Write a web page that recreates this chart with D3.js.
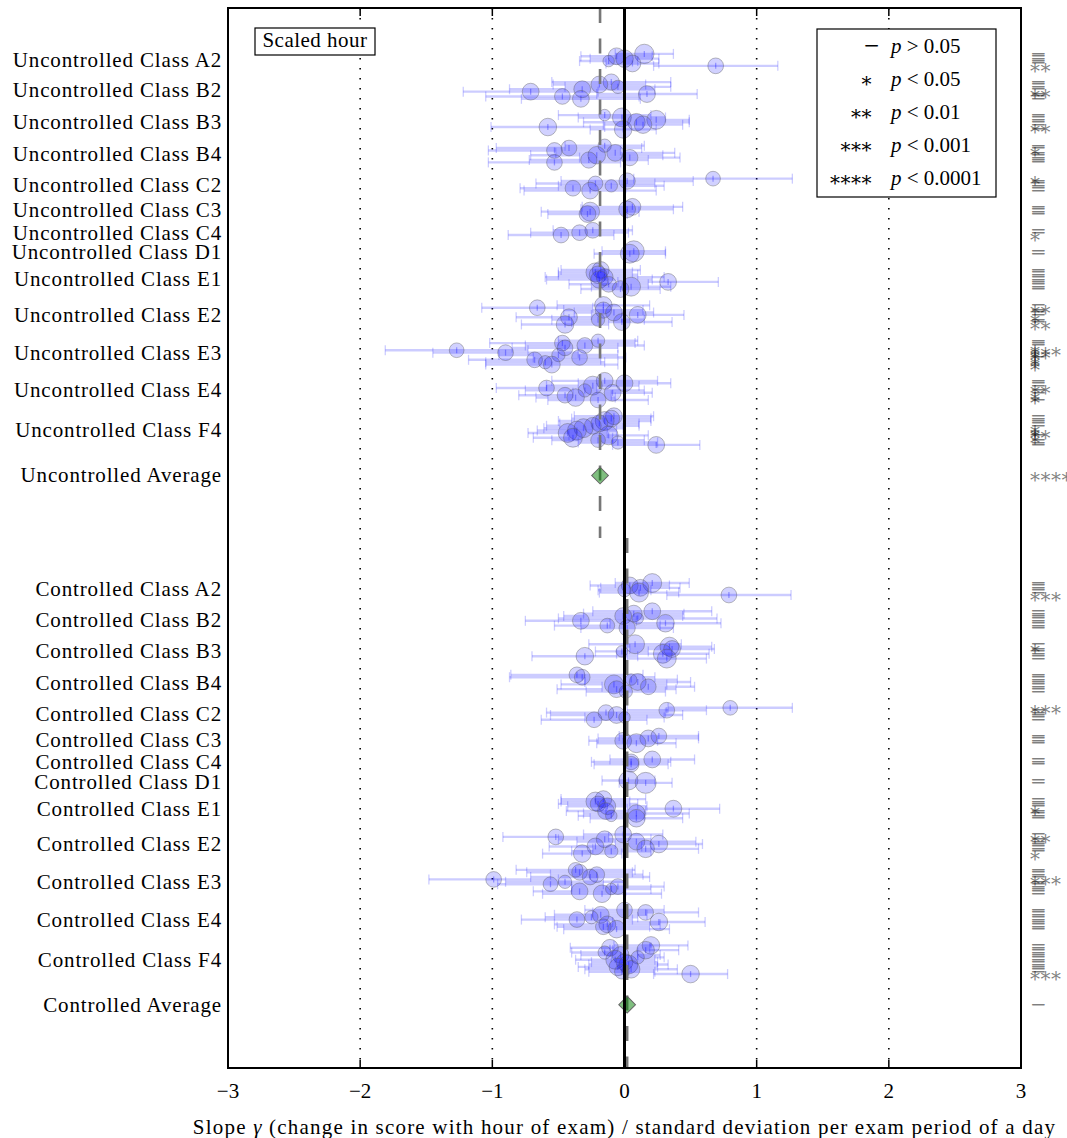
<!DOCTYPE html>
<html><head><meta charset="utf-8">
<script src="https://cdn.jsdelivr.net/npm/d3@7"></script>
<style>body{margin:0;background:#fff}</style>
</head><body>
<svg id="c" width="1067" height="1138"></svg>
<script>
// ---------- DATA ----------
const classes = ["A2","B2","B3","B4","C2","C3","C4","D1","E1","E2","E3","E4","F4"];
const sections = ["Uncontrolled","Controlled"];
const xTicks = [-3,-2,-1,0,1,2,3];
const gridTicks = [-2,-1,1,2];
const sigSymbols = ["\u2212","*","**","***","****"];
const legendRel = [">","<","<","<","<"];
const legendP = ["0.05","0.05","0.01","0.001","0.0001"];
const boxLabel = "Scaled hour";

// Uncontrolled: slope values, half-width of error bars, weights (circle area), significance level
const uncValues = [
  [0.15,-0.06,0.00,-0.12,0.06,0.69],
  [-0.10,-0.19,-0.05,-0.32,-0.71,0.17,-0.47,-0.33],
  [-0.15,-0.02,0.24,0.09,0.14,-0.58,-0.01],
  [-0.15,-0.42,-0.53,-0.07,-0.21,0.04,-0.27,-0.53],
  [0.67,0.02,-0.22,-0.10,-0.39,-0.26],
  [0.06,0.02,-0.26,-0.28],
  [-0.24,-0.34,-0.48],
  [0.07,0.04],
  [-0.18,-0.22,-0.20,-0.15,-0.19,0.33,-0.12,0.05,-0.03],
  [-0.16,-0.66,-0.16,-0.08,0.10,-0.42,-0.20,-0.02,-0.45],
  [-0.20,-0.47,-0.30,-0.45,-1.27,-0.90,-0.50,-0.34,-0.68,-0.60,-0.55],
  [-0.15,0.00,-0.24,-0.59,-0.30,-0.09,-0.45,-0.37,-0.20],
  [-0.08,-0.10,-0.15,-0.19,-0.24,-0.31,-0.36,-0.43,-0.12,-0.39,-0.20,-0.05,0.24]
];
const uncErrors = [
  [0.22,0.27,0.26,0.22,0.20,0.47],
  [0.45,0.35,0.40,0.55,0.51,0.38,0.58,0.45],
  [0.35,0.33,0.25,0.40,0.30,0.43,0.25],
  [0.30,0.55,0.50,0.45,0.50,0.38,0.45,0.50],
  [0.60,0.50,0.45,0.40,0.40,0.50],
  [0.38,0.35,0.37,0.30],
  [0.30,0.37,0.40],
  [0.24,0.27],
  [0.30,0.28,0.30,0.45,0.40,0.38,0.30,0.30,0.30],
  [0.35,0.42,0.30,0.30,0.35,0.40,0.35,0.38,0.33],
  [0.30,0.55,0.45,0.40,0.54,0.55,0.45,0.35,0.50,0.45,0.50],
  [0.40,0.35,0.35,0.38,0.45,0.30,0.35,0.30,0.38],
  [0.30,0.30,0.35,0.30,0.35,0.30,0.30,0.30,0.30,0.30,0.35,0.30,0.33]
];
const uncWeights = [
  [85,64,70,30,64,56],
  [60,64,40,64,64,64,56,64],
  [30,81,81,70,70,70,70],
  [40,56,56,64,70,60,60,56],
  [49,60,49,35,56,64],
  [64,64,81,64],
  [56,56,56],
  [100,81],
  [64,81,70,64,70,64,56,81,64],
  [70,56,60,64,64,64,40,64,70],
  [40,56,56,56,49,56,40,56,56,40,64],
  [64,64,81,56,40,64,56,70,56],
  [64,64,81,64,64,81,81,81,81,81,49,40,64]
];
const uncSig = [
  [0,0,0,0,0,2],
  [0,0,0,0,2,0,0,0],
  [0,0,0,0,0,2,0],
  [0,0,1,0,0,0,0,0],
  [1,0,0,0,0,0],
  [0,0,0,0],
  [0,0,1],
  [0,0],
  [0,0,0,0,0,0,0,0,0],
  [0,2,0,0,0,1,0,0,2],
  [0,0,0,1,3,2,1,0,1,1,1],
  [0,0,0,2,0,0,1,1,0],
  [0,0,0,0,0,1,1,2,0,1,0,0,0]
];
const uncAverage = -0.185, uncAverageSig = 4;

// Controlled
const ctlValues = [
  [0.21,0.04,0.12,0.00,0.11,0.79],
  [0.21,0.07,-0.01,0.10,-0.33,0.31,-0.13,0.02],
  [0.08,0.34,0.36,-0.02,0.29,-0.30,0.32],
  [-0.36,-0.32,0.05,0.10,-0.08,0.18,-0.06,0.01],
  [0.80,0.32,-0.14,-0.06,0.00,-0.23],
  [0.26,0.18,-0.01,0.09],
  [0.21,0.05,0.05],
  [0.03,0.16],
  [-0.16,-0.22,-0.20,-0.13,0.37,-0.14,0.09,-0.10,0.09],
  [-0.01,-0.52,-0.15,0.09,0.26,-0.22,0.16,-0.10,-0.32],
  [-0.37,-0.34,-0.21,-0.26,-0.99,-0.45,-0.56,-0.05,-0.10,-0.34,-0.17],
  [0.00,0.16,-0.18,-0.25,-0.36,0.26,-0.13,-0.16,-0.06],
  [0.20,-0.11,0.16,-0.15,-0.03,0.10,-0.07,0.00,0.03,-0.05,0.05,-0.02,0.50]
];
const ctlErrors = [
  [0.28,0.30,0.30,0.20,0.30,0.47],
  [0.45,0.38,0.45,0.60,0.42,0.42,0.40,0.35],
  [0.35,0.32,0.32,0.20,0.35,0.40,0.30],
  [0.50,0.55,0.35,0.40,0.40,0.35,0.45,0.30],
  [0.47,0.30,0.45,0.50,0.30,0.40],
  [0.30,0.38,0.26,0.30],
  [0.32,0.30,0.28],
  [0.20,0.20],
  [0.32,0.26,0.30,0.30,0.35,0.30,0.40,0.25,0.35],
  [0.30,0.40,0.35,0.45,0.33,0.35,0.40,0.30,0.30],
  [0.45,0.40,0.35,0.45,0.49,0.45,0.40,0.35,0.30,0.35,0.45],
  [0.30,0.40,0.35,0.35,0.42,0.35,0.40,0.35,0.40],
  [0.28,0.30,0.25,0.25,0.30,0.20,0.30,0.25,0.30,0.30,0.35,0.25,0.28]
];
const ctlWeights = [
  [81,64,64,40,81,56],
  [64,64,64,30,64,70,49,60],
  [81,81,64,30,81,70,81],
  [56,56,30,64,81,56,64,40],
  [49,56,56,64,30,56],
  [56,64,64,81],
  [64,56,56],
  [81,100],
  [64,81,56,64,64,64,70,30,70],
  [64,56,64,64,70,64,70,40,70],
  [49,56,56,56,56,40,49,56,30,64,70],
  [56,56,64,40,56,70,64,56,70],
  [70,64,70,40,64,40,81,64,81,70,70,49,70]
];
const ctlSig = [
  [0,0,0,0,0,3],
  [0,0,0,0,0,0,0,0],
  [0,1,0,0,0,0,0],
  [0,0,0,0,0,0,0,0],
  [3,0,0,0,0,0],
  [0,0,0,0],
  [0,0,0],
  [0,0],
  [0,0,0,0,1,0,0,0,0],
  [0,2,0,0,0,0,0,0,1],
  [0,0,0,0,3,0,0,0,0,0,0],
  [0,0,0,0,0,0,0,0,0],
  [0,0,0,0,0,0,0,0,0,0,0,0,3]
];
const ctlAverage = 0.02, ctlAverageSig = 0;

// ---------- LAYOUT ----------
const W = 1067, H = 1138;
const M = {left: 228, right: 1021, top: 8, bottom: 1068};
const FONT = "'Liberation Serif', 'DejaVu Serif', serif";
const MFONT = "'DejaVu Serif', serif";
const FS = 21;
const LS = "0.85px";

// slot layout (rows in units of one exam)
const START = 19.2, GROUP_GAP = 5.8, AVG_GAP = 12.8, SECTION_GAP = 45, SLOTS = 443.5;

function layoutSection(values, start) {
  let pos = start;
  const ys = [];
  values.forEach((grp, gi) => {
    if (gi > 0) pos += 1 + GROUP_GAP;
    ys.push(grp.map((_, i) => pos + i));
    pos += grp.length - 1;
  });
  const avg = pos + AVG_GAP;
  return {ys, avg};
}
const unc = layoutSection(uncValues, START);
const ctlStart = unc.avg + SECTION_GAP;
const ctl = layoutSection(ctlValues, ctlStart);
const boundary = unc.avg + 0.58 * SECTION_GAP;

const x = d3.scaleLinear().domain([-3, 3]).range([M.left, M.right]);
const y = d3.scaleLinear().domain([0, SLOTS]).range([M.top, M.bottom]);
const r = d3.scaleSqrt().domain([0, 100]).range([0, 10.5]);

const svg = d3.select("#c");
svg.append("rect").attr("width", W).attr("height", H).attr("fill", "#fff");

// grid (dotted)
svg.append("g").selectAll("line").data(gridTicks).join("line")
  .attr("x1", d => x(d)).attr("x2", d => x(d))
  .attr("y1", M.top).attr("y2", M.bottom)
  .attr("stroke", "#000").attr("stroke-width", 1.6)
  .attr("stroke-dasharray", "1.6,8.4");

// build point list
function points(section, values, errors, weights, sigs, lay) {
  const out = [];
  values.forEach((grp, gi) => grp.forEach((v, i) => out.push({
    section, cls: classes[gi], v, e: errors[gi][i], w: weights[gi][i], s: sigs[gi][i], yy: lay.ys[gi][i]
  })));
  return out;
}
const pts = points("Uncontrolled", uncValues, uncErrors, uncWeights, uncSig, unc)
  .concat(points("Controlled", ctlValues, ctlErrors, ctlWeights, ctlSig, ctl));

const blue = "rgba(0,0,255,0.2)";
const gData = svg.append("g");
// error bars
gData.selectAll("line.bar").data(pts).join("line").attr("class", "bar")
  .attr("x1", d => x(d.v - d.e)).attr("x2", d => x(d.v + d.e))
  .attr("y1", d => y(d.yy)).attr("y2", d => y(d.yy))
  .attr("stroke", blue).attr("stroke-width", 2.4);
const capH = 5;
["lo","hi"].forEach(side => {
  gData.selectAll("line.cap" + side).data(pts).join("line").attr("class", "cap" + side)
    .attr("x1", d => x(side === "lo" ? d.v - d.e : d.v + d.e))
    .attr("x2", d => x(side === "lo" ? d.v - d.e : d.v + d.e))
    .attr("y1", d => y(d.yy) - capH).attr("y2", d => y(d.yy) + capH)
    .attr("stroke", blue).attr("stroke-width", 1.3);
});
gData.selectAll("line.mid").data(pts).join("line").attr("class", "mid")
  .attr("x1", d => x(d.v)).attr("x2", d => x(d.v))
  .attr("y1", d => y(d.yy) - 3).attr("y2", d => y(d.yy) + 3)
  .attr("stroke", "rgba(0,0,255,0.3)").attr("stroke-width", 1.3);
gData.selectAll("circle").data(pts).join("circle")
  .attr("cx", d => x(d.v)).attr("cy", d => y(d.yy)).attr("r", d => r(d.w))
  .attr("fill", "rgba(0,0,255,0.18)")
  .attr("stroke", "rgba(90,90,90,0.4)").attr("stroke-width", 1);

// average dashed lines
const avgLines = [
  {v: uncAverage, y1: 0, y2: boundary},
  {v: ctlAverage, y1: boundary, y2: SLOTS}
];
svg.append("g").selectAll("line").data(avgLines).join("line")
  .attr("x1", d => x(d.v)).attr("x2", d => x(d.v))
  .attr("y1", d => y(d.y1)).attr("y2", d => y(d.y2))
  .attr("stroke", "#777").attr("stroke-width", 2.6)
  .attr("stroke-dasharray", "15,15.5");

// average diamonds
const avgs = [
  {section: "Uncontrolled", v: uncAverage, s: uncAverageSig, yy: unc.avg},
  {section: "Controlled", v: ctlAverage, s: ctlAverageSig, yy: ctl.avg}
];
svg.append("g").selectAll("path").data(avgs).join("path")
  .attr("d", d3.symbol(d3.symbolSquare, 140))
  .attr("transform", d => `translate(${x(d.v)},${y(d.yy)}) rotate(45)`)
  .attr("fill", "rgba(0,128,0,0.5)").attr("stroke", "#666").attr("stroke-width", 1);

// zero line
svg.append("line").attr("x1", x(0)).attr("x2", x(0)).attr("y1", M.top).attr("y2", M.bottom)
  .attr("stroke", "#000").attr("stroke-width", 3);

// frame
svg.append("rect").attr("x", M.left).attr("y", M.top)
  .attr("width", M.right - M.left).attr("height", M.bottom - M.top)
  .attr("fill", "none").attr("stroke", "#000").attr("stroke-width", 2);

// ticks (inward, top and bottom)
const tickG = svg.append("g");
tickG.selectAll("line.tb").data(xTicks.slice(1, -1)).join("line").attr("class", "tb")
  .attr("x1", d => x(d)).attr("x2", d => x(d)).attr("y1", M.bottom).attr("y2", M.bottom - 8)
  .attr("stroke", "#000").attr("stroke-width", 1.5);
tickG.selectAll("line.tt").data(xTicks.slice(1, -1)).join("line").attr("class", "tt")
  .attr("x1", d => x(d)).attr("x2", d => x(d)).attr("y1", M.top).attr("y2", M.top + 8)
  .attr("stroke", "#000").attr("stroke-width", 1.5);
tickG.selectAll("text").data(xTicks).join("text")
  .attr("x", d => x(d)).attr("y", 1098)
  .attr("text-anchor", "middle").attr("font-family", FONT).attr("font-size", FS)
  .text(d => d < 0 ? "\u2212" + Math.abs(d) : String(d));

// axis label
const xl = svg.append("text").attr("x", (M.left + M.right) / 2).attr("y", 1134)
  .attr("text-anchor", "middle").attr("font-family", FONT).attr("font-size", FS)
  .attr("letter-spacing", "1.2px");
xl.append("tspan").text("Slope ");
xl.append("tspan").attr("font-style", "italic").text("\u03b3");
xl.append("tspan").text(" (change in score with hour of exam) / standard deviation per exam period of a day");

// y labels
const labels = [];
sections.forEach((sec, si) => {
  const lay = si === 0 ? unc : ctl;
  classes.forEach((c, gi) => {
    const ys = lay.ys[gi];
    labels.push({t: `${sec} Class ${c}`, yy: (ys[0] + ys[ys.length - 1]) / 2});
  });
  labels.push({t: `${sec} Average`, yy: lay.avg});
});
svg.append("g").selectAll("text").data(labels).join("text")
  .attr("x", 222).attr("y", d => y(d.yy))
  .attr("dy", "0.33em")
  .attr("text-anchor", "end").attr("font-family", FONT).attr("font-size", FS)
  .attr("letter-spacing", LS)
  .text(d => d.t);

// significance marker styling helper
function sigText(sel) {
  sel.attr("font-family", MFONT)
    .attr("font-size", 20)
    .attr("dy", d => d === 0 ? "0.3em" : "0.6em")
    .attr("letter-spacing", d => d === 0 ? "0" : "0.5px")
    .text(d => sigSymbols[d]);
}

// significance markers on right
const mk = svg.append("g").selectAll("g").data(pts.concat(avgs)).join("g")
  .attr("transform", d => `translate(1030,${y(d.yy)})`);
mk.append("text").datum(d => d.s).call(sigText)
  .attr("fill", "#000").attr("fill-opacity", 0.5);

// Scaled hour box
svg.append("rect").attr("x", 255).attr("y", 28).attr("width", 120).attr("height", 27)
  .attr("fill", "#fff").attr("stroke", "#000").attr("stroke-width", 1.2);
svg.append("text").attr("x", 315).attr("y", 47).attr("text-anchor", "middle")
  .attr("font-family", FONT).attr("font-size", FS).attr("letter-spacing", "0.5px").text(boxLabel);

// legend
const lg = svg.append("g");
lg.append("rect").attr("x", 817).attr("y", 29).attr("width", 179).attr("height", 168)
  .attr("fill", "#fff").attr("stroke", "#000").attr("stroke-width", 1.2);
const rows = d3.range(5);
lg.selectAll("g.sym").data(rows).join("g").attr("class", "sym")
  .attr("transform", i => `translate(${i === 0 ? 880 : 872},${46 + i * 33})`)
  .append("text").datum(i => i).call(sigText).attr("text-anchor", "end").attr("fill", "#000");
const lt = lg.selectAll("text.lab").data(rows).join("text").attr("class", "lab")
  .attr("x", 891).attr("y", i => 53 + i * 33)
  .attr("font-family", FONT).attr("font-size", FS);
lt.append("tspan").attr("font-style", "italic").text("p");
lt.append("tspan").text(i => " " + legendRel[i] + " " + legendP[i]);
</script>
</body></html>
